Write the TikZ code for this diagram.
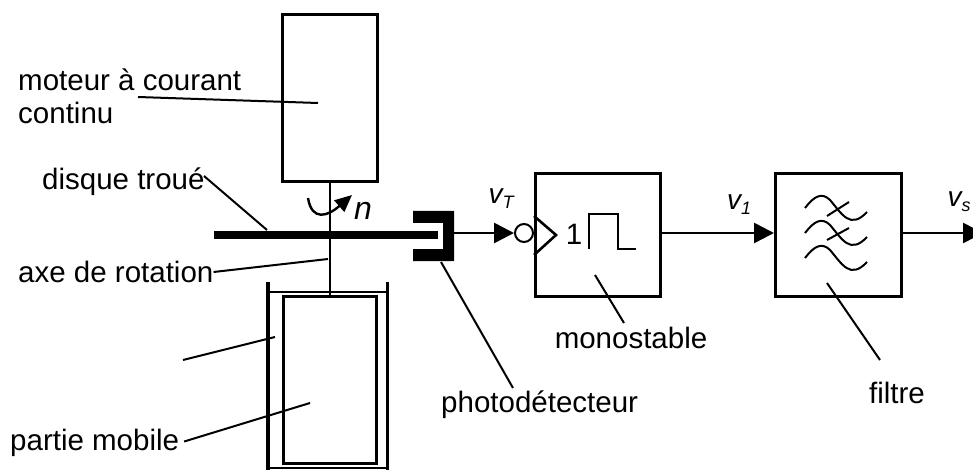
\documentclass[tikz,border=0pt]{standalone}
\usepackage{fontspec}
\setmainfont{Liberation Sans}
\usetikzlibrary{positioning}
\usetikzlibrary{arrows.meta}

\newcommand{\indice}[1]{{\fontsize{18}{18}\selectfont\raisebox{-5pt}{#1}}}
\tikzset{
 boite/.style={draw,line width=2.6pt,inner sep=0pt,anchor=north west},
 etiquette/.style={font=\fontsize{29.5}{34}\selectfont,inner sep=0pt},
 grandeur/.style={font=\fontsize{28}{32}\selectfont\itshape,inner sep=0pt},
 trait/.style={line width=2pt},
 liaison/.style={line width=2.6pt,-{Triangle[length=20pt,width=20pt]}},
}

\begin{document}
\begin{tikzpicture}[x=1pt,y=-1pt]
 \clip (0,0) rectangle (973,470);
 % boites
 \node[boite,minimum width=95pt,minimum height=167pt] (moteur) at (281,13) {};
 \node[boite,minimum width=125pt,minimum height=123pt] (mono) at (534,172) {};
 \node[boite,minimum width=126pt,minimum height=123pt] (filtre) at (774,172) {};
 \node[boite,minimum width=93pt,minimum height=167pt] (mobile) at (282,295) {};
 % axe et disque
 \coordinate (axebas) at (mobile.north -| moteur.south);
 \draw[line width=2.6pt] (moteur.south) -- (axebas);
 \coordinate (disqueg) at (214,235);
 \coordinate (disqued) at (438,235);
 \draw[line width=8pt] (disqueg) -- (disqued);
 % stator
 \draw[line width=3.5pt] (268,282) -- (268,470);
 \draw[line width=3pt] (387,282) -- (387,470);
 \draw[line width=2pt] (268,292) -- (387,292);
 \draw[line width=2pt] (268,468) -- (387,468);
 % photodetecteur
 \fill (413,211) -- (454,211) -- (454,261) -- (413,261) -- (413,249) -- (443,249) -- (443,223) -- (413,223) -- cycle;
 % sens de rotation
 \coordinate (rota) at (308,198);
 \coordinate (rotb) at (352,195);
 \draw[line width=2.4pt,-{Triangle[length=17pt,width=15pt]}] (rota) .. controls (312,222) and (328,216) .. (rotb);
 \node[grandeur,font=\fontsize{32}{36}\selectfont\itshape] (n) at (363,211) {n};
 % chaine de mesure
 \coordinate (sortie) at (454,233);
 \coordinate (fin) at (983,233);
 \node[draw,circle,line width=2pt,minimum size=18pt,inner sep=0pt] (rond) at (524,233) {};
 \draw[liaison] (sortie) -- (rond.west);
 \draw[line width=2.6pt] (534,216) -- (556,235) -- (534,255);
 \draw[liaison] (mono.east |- fin) -- (filtre.west |- fin);
 \draw[liaison] (filtre.east |- fin) -- (fin);
 \node[etiquette] (un) at (574,234) {1};
 \draw[line width=2.4pt] (589,249) -- (589,214) -- (618,214) -- (618,249) -- (636,249);
 % ondes du filtre
 \foreach \dy in {0,25,50}
 \draw[trait] (805,208+\dy) .. controls (814,196+\dy) and (822,192+\dy) .. (830,200+\dy)
  .. controls (842,214+\dy) and (850,230+\dy) .. (867,212+\dy);
 \draw[trait] (827,216) -- (849,202);
 \draw[trait] (827,240) -- (849,228);
 % textes
 \node[etiquette,anchor=west] (t1) at (18,80) {moteur à courant};
 \node[etiquette,anchor=west] (t2) at (18,113) {continu};
 \node[etiquette,anchor=west] (t3) at (42,182) {disque troué};
 \node[etiquette,anchor=west] (t4) at (18,272) {axe de rotation};
 \node[etiquette,anchor=west] (t5) at (10,443) {partie mobile};
 \node[etiquette,anchor=west] (t6) at (441,405) {photodétecteur};
 \node[etiquette] (t7) at (631,338) {monostable};
 \node[etiquette] (t8) at (897,393) {filtre};
 \node[grandeur] (vt) at (501,199) {v\indice{T}};
 \node[grandeur] (v1) at (739,205) {v\indice{1}};
 \node[grandeur] (vs) at (959,202) {v\indice{s}};
 % traits de rappel
 \draw[trait] (138,97) -- (318,103);
 \draw[trait] (204,176) -- (267,230);
 \draw[trait] (t4.east) -- (328,259);
 \draw[trait] (183,360) -- (275,337);
 \draw[trait,shorten <=5pt] (t5.east) -- (310,403);
 \draw[trait] (441,262) -- (513,388);
 \draw[trait] (595,275) -- (624,323);
 \draw[trait] (827,283) -- (880,360);
\end{tikzpicture}
\end{document}
